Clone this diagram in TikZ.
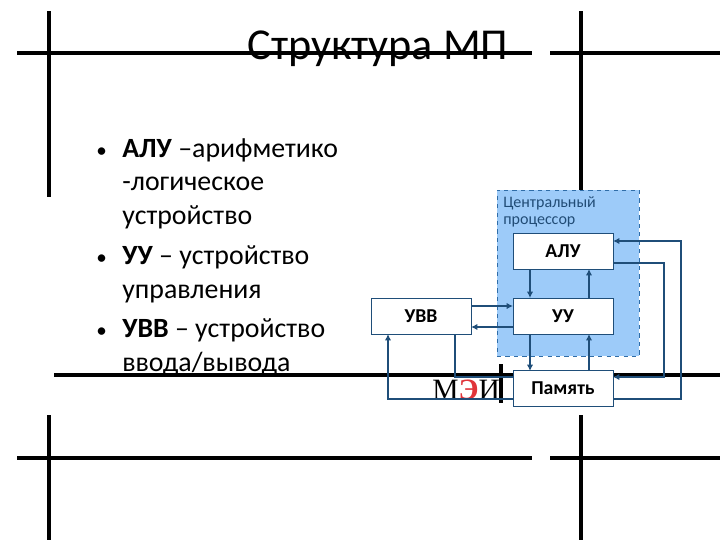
\documentclass[tikz,border=0pt]{standalone}
\usepackage{fontspec}
\setmainfont{Carlito}
\usetikzlibrary{arrows.meta}
\definecolor{linkblue}{HTML}{1F4E79}
\definecolor{cpufill}{HTML}{9DCBF9}
\definecolor{cpuedge}{HTML}{2F6DA8}
\definecolor{logored}{HTML}{E0343A}
\tikzset{
    frameline/.style={line width=2.25pt, black},
    unitbox/.style={draw=linkblue, fill=white, line width=0.5pt, minimum width=71.1pt, minimum height=25.6pt, inner sep=0pt, font=\fontsize{14}{16}\selectfont\bfseries},
    link/.style={-{Latex[length=4.5pt,width=4.5pt]}, line width=1pt, linkblue},
    plainlink/.style={line width=1pt, linkblue},
    bodytext/.style={anchor=base west, inner sep=0pt, font=\fontsize{19.8}{22}\selectfont},
    bullet/.style={anchor=base west, inner sep=0pt, font=\fontsize{15}{22}\selectfont}
}
\begin{document}
\begin{tikzpicture}[x=0.025cm, y=-0.025cm]
    \useasboundingbox (0,0) rectangle (720,540);

    % 1. Linee del fondo
    \draw[frameline] (17,53) -- (532,53);
    \draw[frameline] (550,53) -- (720,53);
    \draw[frameline] (49,11) -- (49,197);
    \draw[frameline] (581,11) -- (581,190);
    \draw[frameline] (54,375) -- (720,375);
    \draw[frameline] (501,364) -- (501,403);
    \draw[frameline] (17,458) -- (532,458);
    \draw[frameline] (550,458) -- (720,458);
    \draw[frameline] (49,415) -- (49,540);
    \draw[frameline] (581,415) -- (581,540);

    % 2. Titolo e logo
    \node (title) at (378,49) {\fontsize{31.4}{34}\selectfont Структура МП};
    \node[anchor=base west, inner sep=0pt] (logo) at (432,399) {\fontsize{21}{22}\selectfont\setmainfont{Liberation Serif}\rmfamily М\textcolor{logored}{\textbf{Э}}И};

    % 3. Elenco a sinistra
    \node[bullet] (dota) at (96,157) {•};
    \node[bodytext] (linea) at (122,157) {\textbf{АЛУ} –арифметико};
    \node[bodytext] (lineb) at (122,190) {-логическое};
    \node[bodytext] (linec) at (122,224) {устройство};
    \node[bullet] (dotb) at (96,264) {•};
    \node[bodytext] (lined) at (122,264) {\textbf{УУ} – устройство};
    \node[bodytext] (linee) at (122,298) {управления};
    \node[bullet] (dotc) at (96,337) {•};
    \node[bodytext] (linef) at (122,337) {\textbf{УВВ} – устройство};
    \node[bodytext] (lineg) at (122,371) {ввода/вывода};

    % 4. Blocchi
    \node[draw=cpuedge, dashed, fill=cpufill, line width=0.5pt, minimum width=101pt, minimum height=118pt, inner sep=0pt] (cpu) at (568,273) {};
    \node[anchor=north west, inner sep=0pt, align=left, text=cpuedge!70!black, font=\fontsize{11.4}{12.2}\selectfont] (cpulabel) at (503,196) {Центральный\\процессор};
    \node[unitbox] (alu) at (563,251) {АЛУ};
    \node[unitbox] (uu) at (563,316) {УУ};
    \node[unitbox] (uvv) at (421,316) {УВВ};
    \node[unitbox] (mem) at (563,388.5) {Память};

    % 5. Punti di aggancio
    \coordinate (alua) at (530,269);
    \coordinate (alub) at (589,269);
    \coordinate (aluc) at (613,241);
    \coordinate (alud) at (613,263);
    \coordinate (uua) at (530,298);
    \coordinate (uub) at (589,298);
    \coordinate (uuc) at (530,334);
    \coordinate (uud) at (589,334);
    \coordinate (uue) at (513,306);
    \coordinate (uuf) at (513,327);
    \coordinate (uvva) at (471,306);
    \coordinate (uvvb) at (471,327);
    \coordinate (uvvc) at (388,334);
    \coordinate (uvvd) at (455,334);
    \coordinate (mema) at (530,371);
    \coordinate (memb) at (589,371);
    \coordinate (memc) at (613,377);
    \coordinate (memd) at (613,399);
    \coordinate (meme) at (513,399);
    \coordinate (memf) at (513,377);

    % 6. Frecce
    \draw[link] (alua) -- (uua);
    \draw[link] (uub) -- (alub);
    \draw[link] (uuc) -- (mema);
    \draw[link] (memb) -- (uud);
    \draw[link] (uvva) -- (uue);
    \draw[link] (uuf) -- (uvvb);
    \draw[link] (alud) -- (664,263) -- (664,377) -- (memc);
    \draw[link] (memd) -- (681,399) -- (681,241) -- (aluc);
    \draw[link] (meme) -- (388,399) -- (uvvc);
    \draw[plainlink] (uvvd) -- (455,377) -- (memf);
\end{tikzpicture}
\end{document}
